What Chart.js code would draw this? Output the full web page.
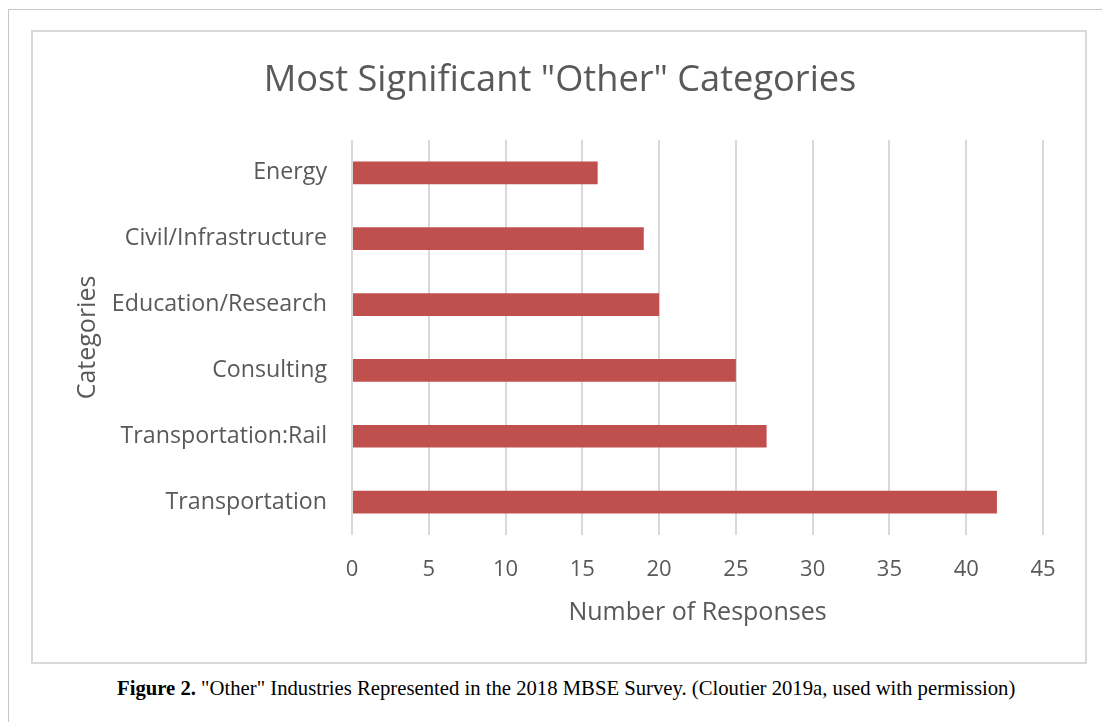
<!DOCTYPE html>
<html>
<head>
<meta charset="utf-8">
<script src="https://cdn.jsdelivr.net/npm/chart.js@4"></script>
<style>
  html, body { margin: 0; padding: 0; background: #ffffff; width: 1102px; height: 722px; overflow: hidden; }
  #outer { position: absolute; left: 8px; top: 9px; width: 1200px; height: 800px; border-top: 1px solid #c6c6c6; border-left: 1px solid #c6c6c6; }
  #box { position: absolute; left: 31px; top: 30px; width: 1052px; height: 630px; border: 2px solid #d9d9d9; }
  #wrap { position: absolute; left: 33px; top: 32px; width: 1052px; height: 630px; }
  #caption { position: absolute; left: 117px; top: 677px; font-family: "Liberation Serif", "Times New Roman", serif; font-size: 20.7px; color: #000; white-space: nowrap; }
</style>
</head>
<body>
<div id="outer"></div>
<div id="box"></div>
<div id="wrap"><canvas id="c" width="1052" height="630"></canvas></div>
<div id="caption"><b>Figure 2.</b> "Other" Industries Represented in the 2018 MBSE Survey. (Cloutier 2019a, used with permission)</div>
<script>
const categories = ["Energy", "Civil/Infrastructure", "Education/Research", "Consulting", "Transportation:Rail", "Transportation"];
const responses = [16, 19, 20, 25, 27, 42];
const xTicks = [0, 5, 10, 15, 20, 25, 30, 35, 40, 45];

const FONT = "'Open Sans', Lato, sans-serif";
const GREY = "#595959";

new Chart(document.getElementById("c"), {
  type: "bar",
  data: {
    labels: categories,
    datasets: [{
      data: responses,
      backgroundColor: "#c0504d",
      borderWidth: 0,
      barPercentage: 0.345,
      categoryPercentage: 1.0
    }]
  },
  options: {
    indexAxis: "y",
    responsive: false,
    animation: false,
    layout: { padding: { left: 44, right: 42, top: 0, bottom: 0 } },
    plugins: {
      legend: { display: false },
      tooltip: { enabled: false },
      title: {
        display: true,
        text: 'Most Significant "Other" Categories',
        color: GREY,
        font: { family: FONT, size: 36.2, weight: "normal" },
        padding: { top: 27, bottom: 37.5 }
      }
    },
    scales: {
      x: {
        min: 0, max: 45,
        afterBuildTicks: (s) => { s.ticks = xTicks.map(v => ({ value: v })); },
        grid: { color: "#d9d9d9", lineWidth: 2, drawTicks: false },
        border: { display: false },
        ticks: { color: GREY, font: { family: FONT, size: 22 }, padding: 22 },
        title: { display: true, text: "Number of Responses", color: GREY, font: { family: FONT, size: 25 }, padding: { top: 0, bottom: 34 } },
        afterFit: (s) => { s.height = 127; }
      },
      y: {
        grid: { display: false, drawTicks: false },
        border: { display: false },
        ticks: { color: GREY, font: { family: FONT, size: 23.2 }, padding: 25 },
        title: { display: true, text: "Categories", color: GREY, font: { family: FONT, size: 25, lineHeight: 0.8 }, padding: { top: 1, bottom: 0 } },
        afterFit: (s) => { s.width = 275; }
      }
    }
  }
});
</script>
</body>
</html>
